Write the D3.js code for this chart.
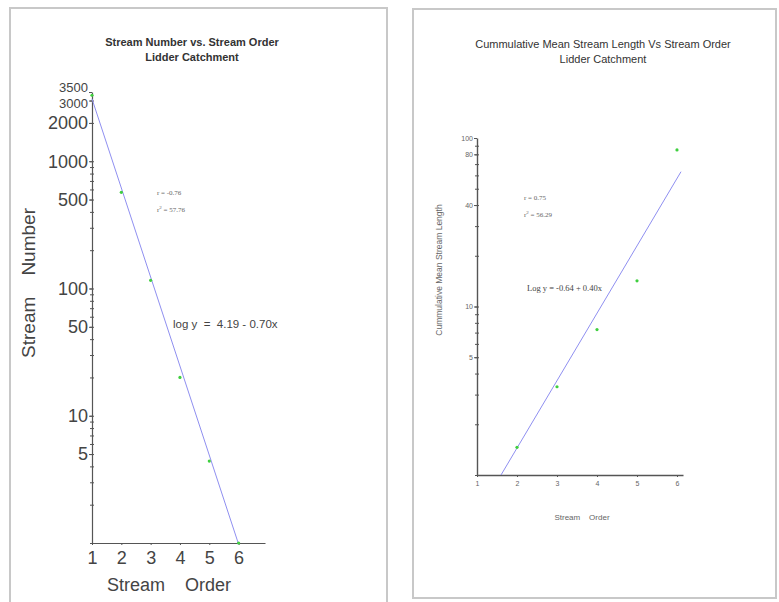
<!DOCTYPE html>
<html>
<head>
<meta charset="utf-8">
<script src="https://cdn.jsdelivr.net/npm/d3@7"></script>
<style>
  body { margin: 0; background: #fff; }
  svg { display: block; font-family: Arial, "Liberation Sans", sans-serif; }
  .axis path, .axis line { stroke: #555; }
</style>
</head>
<body>
<div id="chart"></div>
<script>
// left chart: stream number vs order
const orders = [1, 2, 3, 4, 5, 6];
const streamNumber = [3300, 570, 116, 20, 4.4, 1];
const numberTicks = [5, 10, 50, 100, 500, 1000, 2000, 3000, 3500];
const numberFit = { a: 4.19, b: -0.70, from: 1, to: 6 };

// right chart: cumulative mean stream length vs order
const lengthOrders = [2, 3, 4, 5, 6];
const meanLength = [1.46, 3.34, 7.3, 14.2, 85];
const lengthTicks = [5, 10, 40, 80, 100];
const lengthFit = { a: -0.64, b: 0.40, from: 1.6, to: 6.1 };

const width = 779, height = 602;
const svg = d3.select("#chart").append("svg")
  .attr("width", width)
  .attr("height", height);

// panel frames
svg.append("rect").attr("x", 10).attr("y", 8).attr("width", 377).attr("height", 610)
  .attr("fill", "none").attr("stroke", "#c8c8c8").attr("stroke-width", 2);
svg.append("rect").attr("x", 413).attr("y", 9).attr("width", 363).attr("height", 589)
  .attr("fill", "none").attr("stroke", "#c8c8c8").attr("stroke-width", 2);

const minors = (lo, hi) => {
  let out = [];
  for (let d = lo; d < hi; d *= 10)
    for (let k = 1; k < 10; k++) if (d * k <= hi) out.push(d * k);
  return out;
};

const drawChart = (o) => {
  const x = d3.scaleLinear().domain(o.xDomain).range(o.xRange);
  const y = d3.scaleLog().domain(o.yDomain).range(o.yRange);
  const g = svg.append("g");

  // minor ticks
  g.append("g").attr("class", "axis")
    .attr("transform", "translate(" + o.xRange[0] + ",0)")
    .call(d3.axisLeft(y).tickValues(minors(o.yDomain[0], o.yDomain[1])).tickSize(-2).tickSizeOuter(0).tickFormat(""))
    .call(a => a.select(".domain").remove());
  g.append("g").attr("class", "axis")
    .attr("transform", "translate(" + o.xRange[0] + ",0)")
    .call(d3.axisLeft(y).tickValues(minors(o.yDomain[0], o.yDomain[1])).tickSize(2).tickSizeOuter(0).tickFormat(""))
    .call(a => a.select(".domain").remove());

  const ya = g.append("g").attr("class", "axis")
    .attr("transform", "translate(" + o.xRange[0] + ",0)")
    .call(d3.axisLeft(y).tickValues(o.yTicks).tickSize(3).tickSizeOuter(0).tickPadding(1).tickFormat(d3.format("d")));
  ya.select(".domain").attr("stroke-width", o.axisW);
  ya.selectAll("text").attr("font-size", o.tickFont).attr("fill", o.tickColor);
  // the two crowded top labels
  if (o.crowded) {
    ya.selectAll("text").filter(d => o.crowded[d] !== undefined)
      .attr("font-size", o.crowdFont)
      .attr("y", d => o.crowded[d]);
  }

  const xa = g.append("g").attr("class", "axis")
    .attr("transform", "translate(0," + o.yRange[0] + ")")
    .call(d3.axisBottom(x).tickValues(orders).tickSize(2).tickSizeOuter(0).tickPadding(o.xPad).tickFormat(d3.format("d")));
  xa.select(".domain").attr("stroke-width", o.axisW);
  xa.selectAll("text").attr("font-size", o.tickFont).attr("fill", o.tickColor);

  // fitted line
  const fit = o.fit;
  g.append("path")
    .datum([fit.from, fit.to])
    .attr("d", d3.line().x(d => x(d)).y(d => y(Math.pow(10, fit.a + fit.b * d))))
    .attr("fill", "none").attr("stroke", "#8f8ff0").attr("stroke-width", 1);

  g.selectAll("circle.pt").data(o.xs).join("circle")
    .attr("class", "pt")
    .attr("cx", d => x(d)).attr("cy", (d, i) => y(o.ys[i]))
    .attr("r", 1.6).attr("fill", "#3fcf3f");

  // titles and labels
  const t = g.append("text").attr("text-anchor", "middle")
    .attr("font-size", o.titleFont).attr("font-weight", o.titleWeight).attr("fill", "#333");
  t.append("tspan").attr("x", o.titleX).attr("y", o.titleY).text(o.title[0]);
  t.append("tspan").attr("x", o.titleX).attr("y", o.titleY + o.titleGap).text(o.title[1]);

  g.append("text").attr("text-anchor", "middle")
    .attr("transform", "translate(" + o.yLabel[0] + "," + o.yLabel[1] + ") rotate(-90)")
    .attr("font-size", o.yLabelFont).attr("fill", o.tickColor)
    .style("white-space", "pre")
    .text(o.yText);
  g.append("text").attr("text-anchor", "middle")
    .attr("x", o.xLabel[0]).attr("y", o.xLabel[1])
    .attr("font-size", o.labelFont).attr("fill", o.tickColor)
    .style("white-space", "pre")
    .text(o.xText);

  g.append("text").attr("x", o.rPos[0]).attr("y", o.rPos[1])
    .attr("font-family", "'Liberation Serif', serif").attr("font-size", 7).attr("fill", "#666")
    .text(o.rText);
  const r2 = g.append("text").attr("x", o.rPos[0]).attr("y", o.rPos[1] + 17)
    .attr("font-family", "'Liberation Serif', serif").attr("font-size", 7).attr("fill", "#666");
  r2.append("tspan").text("r");
  r2.append("tspan").attr("dy", -3).attr("font-size", 5).text("2");
  r2.append("tspan").attr("dy", 3).text(o.r2Text);

  g.append("text").attr("x", o.eqPos[0]).attr("y", o.eqPos[1])
    .attr("font-family", o.eqFamily).attr("font-size", o.eqFont).attr("fill", "#444")
    .style("white-space", "pre")
    .text(o.eqText);
};

drawChart({
  xDomain: [1, 6.9], xRange: [92, 265],
  yDomain: [1, 3500], yRange: [543, 92],
  yTicks: numberTicks, xs: orders, ys: streamNumber, fit: numberFit,
  tickFont: 18, tickColor: "#444", xPad: 6, axisW: 1.2,
  crowded: { 3500: -5, 3000: 3 }, crowdFont: 13,
  title: ["Stream Number vs. Stream Order", "Lidder Catchment"],
  titleX: 192, titleY: 46, titleGap: 15, titleFont: 11, titleWeight: "bold",
  yText: "Stream    Number", yLabel: [35, 283], yLabelFont: 19,
  xText: "Stream    Order", xLabel: [169, 591], labelFont: 18,
  rText: "r = -0.76", r2Text: " = 57.76", rPos: [157, 195],
  eqText: "log y  =  4.19 - 0.70x", eqPos: [173, 328], eqFont: 11.5, eqFamily: "Arial, sans-serif"
});

drawChart({
  xDomain: [1, 6.15], xRange: [477, 683],
  yDomain: [1, 100], yRange: [475, 138],
  yTicks: lengthTicks, xs: lengthOrders, ys: meanLength, fit: lengthFit,
  tickFont: 7, tickColor: "#666", xPad: 4, axisW: 1.4,
  title: ["Cummulative Mean Stream Length Vs Stream Order", "Lidder Catchment"],
  titleX: 603, titleY: 48, titleGap: 15, titleFont: 11, titleWeight: "normal",
  yText: "Cummulative Mean Stream Length", yLabel: [442, 270], yLabelFont: 8.5,
  xText: "Stream    Order", xLabel: [582, 520], labelFont: 8,
  rText: "r = 0.75", r2Text: " = 56.29", rPos: [524, 200],
  eqText: "Log y = -0.64 + 0.40x", eqPos: [527, 291], eqFont: 8.5, eqFamily: "'Liberation Serif', serif"
});
</script>
</body>
</html>
